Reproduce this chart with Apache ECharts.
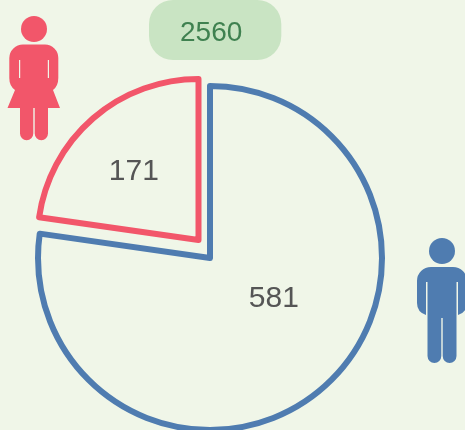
<!DOCTYPE html>
<html><head><meta charset="utf-8">
<style>html,body{margin:0;padding:0;background:#f0f6e8}#c{width:465px;height:430px}</style>
<script src="https://cdn.jsdelivr.net/npm/echarts@6/dist/echarts.min.js"></script>
</head><body><div id="c"></div>
<script>
var categories = ['男', '女'];
var values = [581, 171];
var totalLabel = '2560';
var blue = '#4f7cb0', red = '#f2566a', bg = '#f0f6e8';
var manPath = 'M431 267H453A14 14 0 0 1 467 281V303Q467 312 458 315V282H456.5V356A6.9 6.9 0 0 1 442.7 356V318H441.3V356A6.9 6.9 0 0 1 427.5 356V282H426V315Q417 312 417 303V281A14 14 0 0 1 431 267Z';
var womanPath = 'M23 44.5H45A13.3 13.3 0 0 1 58.3 58V78Q58.3 86 53 90L60 108H48V133.5A6.65 6.65 0 0 1 34.7 133.5V108H33.3V133.5A6.65 6.65 0 0 1 20 133.5V108H7.5L15 90Q9.3 86 9.3 78V58A13.7 13.7 0 0 1 23 44.5ZM19 60V78H20.2V60ZM47.8 60V78H49V60Z';
echarts.graphic.registerShape('manIcon', echarts.graphic.extendPath(manPath, {}));
echarts.graphic.registerShape('womanIcon', echarts.graphic.extendPath(womanPath, {}));
var labelBase = {position: 'inner', formatter: '{c}', color: '#555', fontFamily: 'Liberation Sans', fontSize: 30};
var hidden = {itemStyle: {color: 'transparent', borderWidth: 0}, label: {show: false}};
var chart = echarts.init(document.getElementById('c'));
chart.setOption({
  backgroundColor: bg,
  animation: false,
  title: {
    text: totalLabel, left: 149, top: 0,
    backgroundColor: '#c9e4c3', borderRadius: 24,
    padding: [19, 39, 13, 31],
    textStyle: {color: '#3f8150', fontFamily: 'Liberation Sans', fontSize: 28, fontWeight: 'normal', lineHeight: 28}
  },
  graphic: [
    {type: 'circle', shape: {cx: 34, cy: 29, r: 13}, style: {fill: red}},
    {type: 'womanIcon', style: {fill: red}},
    {type: 'circle', shape: {cx: 442, cy: 251, r: 13}, style: {fill: blue}},
    {type: 'manIcon', style: {fill: blue}}
  ],
  series: [{
    type: 'pie', center: [210, 258], radius: [0, 172],
    startAngle: 90, clockwise: true, silent: true,
    label: labelBase, labelLine: {show: false},
    data: [
      {name: categories[0], value: values[0],
       itemStyle: {color: bg, borderColor: blue, borderWidth: 6},
       label: {offset: [5.5, -27]}},
      Object.assign({name: categories[1], value: values[1]}, hidden)
    ]
  }, {
    type: 'pie', center: [198.5, 240], radius: [0, 161],
    startAngle: 90, clockwise: true, silent: true,
    label: labelBase, labelLine: {show: false},
    data: [
      Object.assign({name: categories[0], value: values[0]}, hidden),
      {name: categories[1], value: values[1],
       itemStyle: {color: bg, borderColor: red, borderWidth: 6},
       label: {offset: [-10, -5]}}
    ]
  }]
});
</script></body></html>
